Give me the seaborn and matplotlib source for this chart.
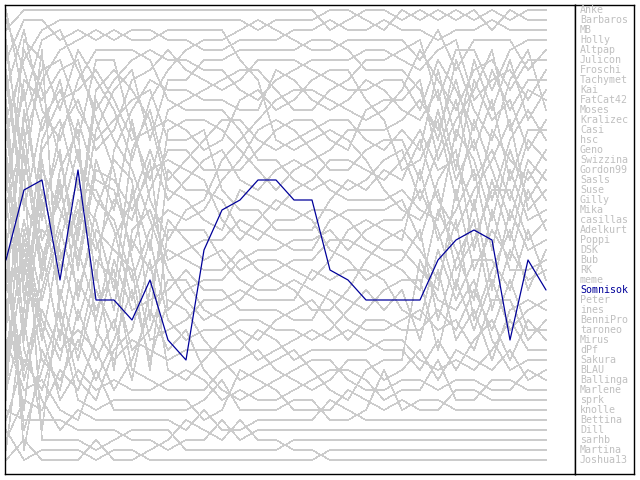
import matplotlib
matplotlib.use("Agg")
import pandas as pd
import matplotlib.pyplot as plt
import seaborn as sns

# ----------------------------------------------------------------------------------------------------------------------
# ranking per round (31 rounds)
rounds = list(range(31))
highlight = "Somnisok"

names = ["Anke", "Barbaros", "MB", "Holly", "Altpap", "Julicon", "Froschi", "Tachymet", "Kai", "FatCat42",
         "Moses", "Kralizec", "Casi", "hsc", "Geno", "Swizzina", "Gordon99", "Sasls", "Suse", "Gilly",
         "Mika", "casillas", "Adelkurt", "Poppi", "DSK", "Bub", "RK", "meme", "Somnisok", "Peter",
         "ines", "BenniPro", "taroneo", "Mirus", "dPf", "Sakura", "BLAU", "Ballinga", "Marlene", "sprk",
         "knolle", "Bettina", "Dill", "sarhb", "Martina", "Joshua13"]

anke = [3, 1, 1, 1, 1, 1, 1, 1, 1, 1, 1, 1, 1, 1, 1, 1, 1, 1, 3, 2, 1, 1, 2, 1, 2, 1, 2, 1, 2, 1, 1]
barbaros = [12, 6, 3, 2, 2, 2, 2, 2, 2, 2, 2, 2, 2, 2, 3, 2, 2, 2, 1, 1, 2, 3, 1, 2, 1, 2, 1, 3, 1, 2, 2]
mb = [40, 14, 8, 5, 4, 3, 4, 3, 3, 4, 4, 5, 5, 4, 4, 3, 3, 3, 2, 3, 3, 2, 3, 3, 4, 3, 3, 2, 3, 3, 3]
holly = [8, 20, 12, 9, 14, 7, 6, 15, 20, 12, 10, 9, 9, 8, 8, 10, 12, 12, 11, 9, 7, 7, 6, 4, 12, 6, 5, 10, 5, 4, 4]
altpap = [22, 4, 6, 11, 5, 9, 12, 18, 10, 7, 5, 4, 4, 3, 2, 2, 4, 5, 5, 4, 4, 4, 5, 8, 3, 9, 4, 5, 4, 8, 5]
julicon = [30, 40, 25, 19, 26, 17, 24, 14, 22, 27, 22, 20, 17, 15, 13, 11, 10, 10, 11, 13, 14, 12, 11, 7, 10, 14, 8, 7, 11, 6, 6]
froschi = [1, 10, 4, 3, 7, 12, 9, 6, 5, 6, 6, 7, 8, 10, 11, 9, 7, 6, 7, 7, 5, 6, 8, 10, 6, 5, 12, 9, 8, 12, 7]
tachymet = [18, 9, 21, 13, 10, 16, 14, 9, 7, 5, 7, 8, 10, 9, 7, 6, 6, 8, 9, 10, 10, 9, 10, 14, 8, 12, 16, 8, 14, 9, 8]
kai = [45, 30, 16, 27, 20, 24, 32, 17, 13, 19, 16, 14, 13, 13, 15, 17, 15, 14, 13, 14, 16, 16, 15, 19, 9, 17, 6, 13, 7, 14, 9]
fatcat42 = [5, 16, 23, 20, 12, 19, 22, 28, 21, 15, 15, 17, 18, 18, 16, 14, 13, 13, 15, 16, 13, 11, 12, 10, 19, 15, 10, 6, 16, 11, 10]
moses = [14, 5, 9, 16, 24, 14, 10, 8, 16, 9, 8, 6, 5, 5, 6, 5, 5, 4, 4, 6, 8, 8, 9, 12, 17, 8, 13, 17, 10, 5, 11]
kralizec = [27, 36, 28, 22, 15, 30, 16, 13, 8, 10, 9, 10, 11, 12, 12, 8, 9, 11, 12, 11, 9, 10, 13, 16, 11, 20, 9, 14, 13, 17, 12]
casi = [35, 24, 33, 24, 18, 26, 33, 21, 28, 13, 12, 12, 14, 16, 19, 20, 18, 17, 16, 15, 15, 14, 14, 13, 16, 10, 19, 12, 21, 15, 13]
hsc = [2, 7, 13, 8, 16, 22, 25, 31, 26, 24, 23, 21, 19, 17, 14, 13, 14, 16, 18, 18, 17, 15, 16, 22, 14, 21, 17, 24, 16, 13, 14]
geno = [20, 33, 19, 30, 22, 10, 8, 10, 14, 19, 20, 22, 23, 21, 21, 22, 20, 19, 17, 17, 19, 20, 18, 16, 21, 19, 26, 15, 18, 20, 15]
swizzina = [9, 3, 11, 14, 8, 6, 5, 5, 6, 11, 11, 11, 12, 14, 17, 18, 19, 21, 20, 21, 20, 18, 17, 24, 18, 13, 22, 18, 23, 16, 16]
gordon99 = [37, 22, 31, 36, 28, 33, 27, 23, 17, 22, 18, 16, 16, 19, 20, 19, 17, 18, 21, 22, 22, 22, 21, 25, 27, 16, 20, 26, 17, 22, 17]
sasls = [16, 27, 14, 10, 9, 8, 11, 16, 15, 12, 13, 15, 15, 11, 10, 12, 11, 9, 8, 8, 11, 13, 19, 20, 15, 23, 14, 20, 25, 18, 18]
suse = [26, 12, 7, 6, 11, 15, 13, 11, 9, 14, 14, 13, 20, 22, 22, 24, 23, 23, 22, 20, 21, 19, 20, 17, 24, 28, 24, 19, 15, 23, 19]
gilly = [42, 35, 38, 33, 35, 29, 39, 26, 23, 30, 27, 25, 25, 23, 24, 26, 27, 25, 24, 24, 23, 24, 22, 28, 22, 18, 29, 22, 27, 19, 20]
mika = [24, 44, 34, 39, 31, 37, 34, 39, 31, 25, 26, 27, 26, 28, 27, 28, 29, 30, 28, 26, 25, 26, 26, 21, 29, 25, 21, 28, 19, 24, 21]
casillas = [6, 2, 2, 4, 3, 4, 3, 4, 4, 3, 3, 3, 3, 6, 9, 15, 16, 15, 14, 15, 18, 21, 23, 26, 23, 31, 28, 23, 22, 27, 22]
adelkurt = [33, 15, 27, 18, 30, 23, 17, 20, 33, 18, 19, 19, 21, 24, 25, 23, 22, 21, 23, 25, 27, 28, 27, 31, 33, 22, 31, 27, 30, 21, 23]
poppi = [11, 29, 18, 26, 21, 27, 23, 25, 19, 35, 32, 30, 29, 27, 26, 27, 26, 24, 25, 27, 26, 25, 24, 23, 28, 33, 25, 32, 24, 28, 24]
dsk = [39, 31, 42, 29, 36, 31, 35, 27, 30, 28, 29, 29, 28, 26, 28, 30, 31, 33, 33, 31, 29, 27, 25, 29, 32, 27, 35, 30, 26, 31, 25]
bub = [7, 19, 24, 34, 23, 11, 15, 19, 25, 31, 33, 34, 33, 31, 29, 29, 28, 27, 26, 26, 28, 29, 29, 33, 25, 29, 33, 25, 31, 28, 26]
rk = [29, 11, 20, 15, 27, 18, 21, 24, 19, 16, 17, 18, 22, 25, 23, 21, 21, 22, 27, 29, 31, 30, 28, 27, 35, 30, 27, 34, 28, 29, 27]
meme = [19, 8, 10, 7, 6, 13, 18, 29, 35, 37, 35, 32, 31, 30, 31, 32, 32, 29, 29, 30, 30, 31, 33, 35, 30, 34, 30, 29, 33, 25, 28]
somnisok = [26, 19, 18, 28, 17, 30, 30, 32, 28, 34, 36, 25, 21, 20, 18, 18, 20, 20, 27, 28, 30, 30, 30, 30, 26, 24, 23, 24, 34, 26, 29]
peter = [44, 39, 40, 37, 39, 35, 29, 34, 31, 33, 30, 31, 30, 32, 33, 33, 34, 34, 31, 32, 33, 32, 31, 32, 38, 32, 36, 31, 37, 33, 30]
ines = [13, 26, 15, 12, 19, 21, 26, 33, 27, 36, 37, 36, 35, 34, 34, 35, 35, 36, 35, 33, 32, 33, 32, 37, 31, 37, 34, 38, 35, 32, 31]
bennipro = [31, 21, 29, 23, 29, 25, 28, 30, 38, 26, 24, 24, 27, 29, 30, 31, 30, 31, 32, 34, 35, 35, 34, 34, 36, 35, 38, 33, 34, 36, 32]
taroneo = [23, 42, 36, 31, 38, 40, 37, 35, 29, 39, 39, 38, 36, 35, 36, 34, 33, 32, 34, 36, 34, 34, 35, 36, 34, 36, 32, 36, 32, 35, 33]
mirus = [10, 28, 22, 25, 32, 28, 31, 37, 34, 32, 31, 33, 34, 36, 37, 37, 36, 35, 36, 35, 36, 37, 37, 39, 37, 39, 37, 35, 38, 34, 34]
dpf = [21, 13, 26, 17, 13, 34, 38, 36, 36, 38, 38, 37, 37, 38, 35, 36, 37, 37, 37, 37, 37, 36, 36, 38, 39, 38, 39, 37, 36, 37, 35]
sakura = [38, 25, 35, 38, 34, 38, 36, 32, 37, 34, 33, 36, 38, 40, 39, 37, 36, 38, 40, 41, 39, 37, 38, 30, 33, 34, 31, 36, 39, 38, 36]
blau = [15, 32, 17, 21, 25, 32, 30, 38, 39, 40, 40, 41, 39, 38, 36, 38, 40, 41, 39, 37, 38, 40, 39, 37, 40, 37, 38, 39, 37, 39, 37]
ballinga = [28, 37, 30, 35, 33, 36, 40, 37, 32, 37, 36, 39, 41, 42, 41, 40, 39, 37, 37, 39, 41, 41, 40, 40, 41, 40, 40, 40, 40, 38, 38]
marlene = [36, 23, 32, 40, 37, 39, 39, 40, 40, 39, 38, 40, 42, 41, 42, 42, 41, 40, 38, 38, 40, 42, 41, 41, 38, 41, 41, 39, 39, 39, 39]
sprk = [4, 18, 5, 32, 40, 41, 41, 41, 41, 41, 41, 43, 43, 39, 40, 41, 43, 43, 42, 40, 42, 43, 42, 42, 42, 40, 40, 40, 40, 40, 40]
knolle = [34, 38, 37, 41, 42, 37, 42, 42, 42, 42, 42, 41, 40, 43, 43, 43, 42, 42, 43, 43, 43, 39, 43, 41, 41, 41, 41, 41, 41, 41, 41]
bettina = [17, 34, 39, 43, 41, 43, 42, 42, 43, 43, 43, 42, 44, 44, 44, 44, 44, 44, 41, 42, 44, 44, 44, 42, 42, 42, 42, 42, 42, 42, 42]
dill = [41, 41, 41, 42, 43, 44, 43, 44, 45, 45, 44, 44, 43, 44, 44, 44, 44, 44, 44, 44, 44, 44, 44, 43, 43, 43, 43, 43, 43, 43, 43]
sarhb = [32, 17, 43, 44, 44, 45, 44, 43, 44, 44, 45, 45, 45, 45, 45, 45, 45, 45, 45, 45, 45, 45, 45, 44, 44, 44, 44, 44, 44, 44, 44]
martina = [43, 45, 44, 45, 45, 46, 45, 45, 46, 46, 46, 46, 46, 46, 46, 46, 46, 46, 46, 46, 46, 46, 46, 45, 45, 45, 45, 45, 45, 45, 45]
joshua13 = [46, 43, 45, 46, 46, 44, 46, 46, 45, 44, 42, 43, 44, 43, 44, 44, 45, 45, 46, 46, 46, 46, 46, 46, 46, 46, 46, 46, 46, 46, 46]

series = [anke, barbaros, mb, holly, altpap, julicon, froschi, tachymet, kai, fatcat42,
          moses, kralizec, casi, hsc, geno, swizzina, gordon99, sasls, suse, gilly,
          mika, casillas, adelkurt, poppi, dsk, bub, rk, meme, somnisok, peter,
          ines, bennipro, taroneo, mirus, dpf, sakura, blau, ballinga, marlene, sprk,
          knolle, bettina, dill, sarhb, martina, joshua13]

# ----------------------------------------------------------------------------------------------------------------------
# make every round a clean 1..46 ranking, the highlighted player keeps its place
n = len(names)
h = names.index(highlight)
clean = {name: [0] * len(rounds) for name in names}
for t in rounds:
    fixed = series[h][t]
    slots = [s for s in range(1, n + 1) if s != fixed]
    others = sorted([i for i in range(n) if i != h], key=lambda i: (series[i][t], i))
    for slot, i in zip(slots, others):
        clean[names[i]][t] = slot
    clean[highlight][t] = fixed

rows = []
for name in names:
    for t in rounds:
        rows.append((name, t, clean[name][t]))
df = pd.DataFrame(rows, columns=["name", "round", "rank"])

# ----------------------------------------------------------------------------------------------------------------------
sns.set_style("white")
plt.rcParams["font.family"] = ["DejaVu Sans Mono", "DejaVu Sans"]

gray = "#cccccc"
blue = "#000099"

fig = plt.figure(figsize=(6.4, 4.8), dpi=100)
ax = fig.add_axes([5 / 640, 6 / 480, 570 / 640, 469 / 480])
sns.lineplot(data=df[df["name"] != highlight], x="round", y="rank", units="name", estimator=None,
             color=gray, linewidth=0.4, antialiased=False, sort=False, legend=False, ax=ax)
sns.lineplot(data=df[df["name"] == highlight], x="round", y="rank", estimator=None,
             color=blue, linewidth=0.9, sort=False, legend=False, ax=ax)
ax.set_xlim(-1 / 18, 30 + 29 / 18)
ax.set_ylim(47.4, 0.5)
ax.set(xticks=[], yticks=[], xlabel="", ylabel="")
for s in ax.spines.values():
    s.set_color("black")
    s.set_linewidth(1.0)

# name list on the right
lax = fig.add_axes([575 / 640, 6 / 480, 59 / 640, 469 / 480])
lax.set_xlim(0, 59)
lax.set_ylim(47.4, 0.5)
lax.set(xticks=[], yticks=[])
for s in lax.spines.values():
    s.set_color("black")
    s.set_linewidth(1.0)
for i, name in enumerate(names):
    lax.text(5, i + 1, name, fontsize=7.2, va="center", ha="left",
             color=blue if name == highlight else "#c0c0c0")

fig.savefig("out.png", dpi=100)
